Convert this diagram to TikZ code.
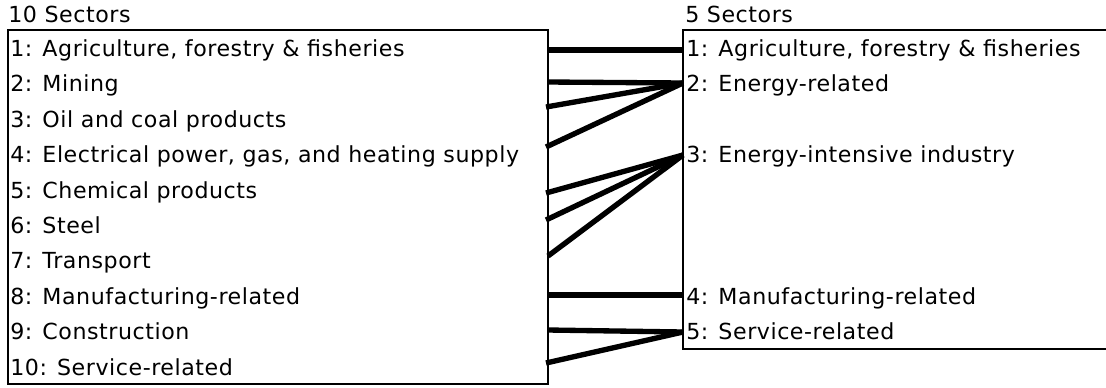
\documentclass[tikz,border=0pt]{standalone}
\usepackage{fontspec}
\setmainfont{DejaVu Sans}[LetterSpace=2.5]
\begin{document}
\begin{tikzpicture}[x=0.75pt,y=-0.75pt,
  lbl/.style={anchor=base west,inner sep=0pt,font=\fontsize{16.6pt}{19pt}\selectfont},
  frame/.style={draw=black,line width=1.5pt},
  link/.style={draw=black,line width=4pt}]
\clip (0,0) rectangle (1106,387);
\fill[white] (0,0) rectangle (1106,387);
% titles
\node[lbl] (t1) at (8,22) {10 Sectors};
\node[lbl] (t2) at (685,22) {5 Sectors};
% boxes
\draw[frame] (8,30) rectangle (548,384);
\draw[frame] (683,30) rectangle (1112,349);
% left labels
\node[lbl] (L1) at (10,56.5) {1: Agriculture, forestry \& fisheries};
\node[lbl] (L2) at (10,91.9) {2: Mining};
\node[lbl] (L3) at (10,127.3) {3: Oil and coal products};
\node[lbl] (L4) at (10,162.7) {4: Electrical power, gas, and heating supply};
\node[lbl] (L5) at (10,198.1) {5: Chemical products};
\node[lbl] (L6) at (10,233.5) {6: Steel};
\node[lbl] (L7) at (10,268.9) {7: Transport};
\node[lbl] (L8) at (10,304.3) {8: Manufacturing-related};
\node[lbl] (L9) at (10,339.7) {9: Construction};
\node[lbl] (L10) at (10,375.1) {10: Service-related};
% right labels
\node[lbl] (R1) at (686,56.5) {1: Agriculture, forestry \& fisheries};
\node[lbl] (R2) at (686,91.9) {2: Energy-related};
\node[lbl] (R3) at (686,162.7) {3: Energy-intensive industry};
\node[lbl] (R4) at (686,304.3) {4: Manufacturing-related};
\node[lbl] (R5) at (686,339.7) {5: Service-related};
% connector ends
\coordinate (a1) at (548,50);
\coordinate (a2) at (548,82);
\coordinate (a3) at (546,107);
\coordinate (a4) at (546,147);
\coordinate (a5) at (546,193);
\coordinate (a6) at (546,220);
\coordinate (a7) at (548,256);
\coordinate (a8) at (548,295);
\coordinate (a9) at (548,330);
\coordinate (a10) at (546,363);
\coordinate (b1) at (683,50);
\coordinate (b2) at (683,83);
\coordinate (b3) at (683,155);
\coordinate (b4) at (683,295);
\coordinate (b5) at (683,332);
% connectors
\draw[link] (a1) -- (b1);
\draw[link] (a2) -- (b2);
\draw[link] (a3) -- (b2);
\draw[link] (a4) -- (b2);
\draw[link] (a5) -- (b3);
\draw[link] (a6) -- (b3);
\draw[link] (a7) -- (b3);
\draw[link] (a8) -- (b4);
\draw[link] (a9) -- (b5);
\draw[link] (a10) -- (b5);
\end{tikzpicture}
\end{document}
